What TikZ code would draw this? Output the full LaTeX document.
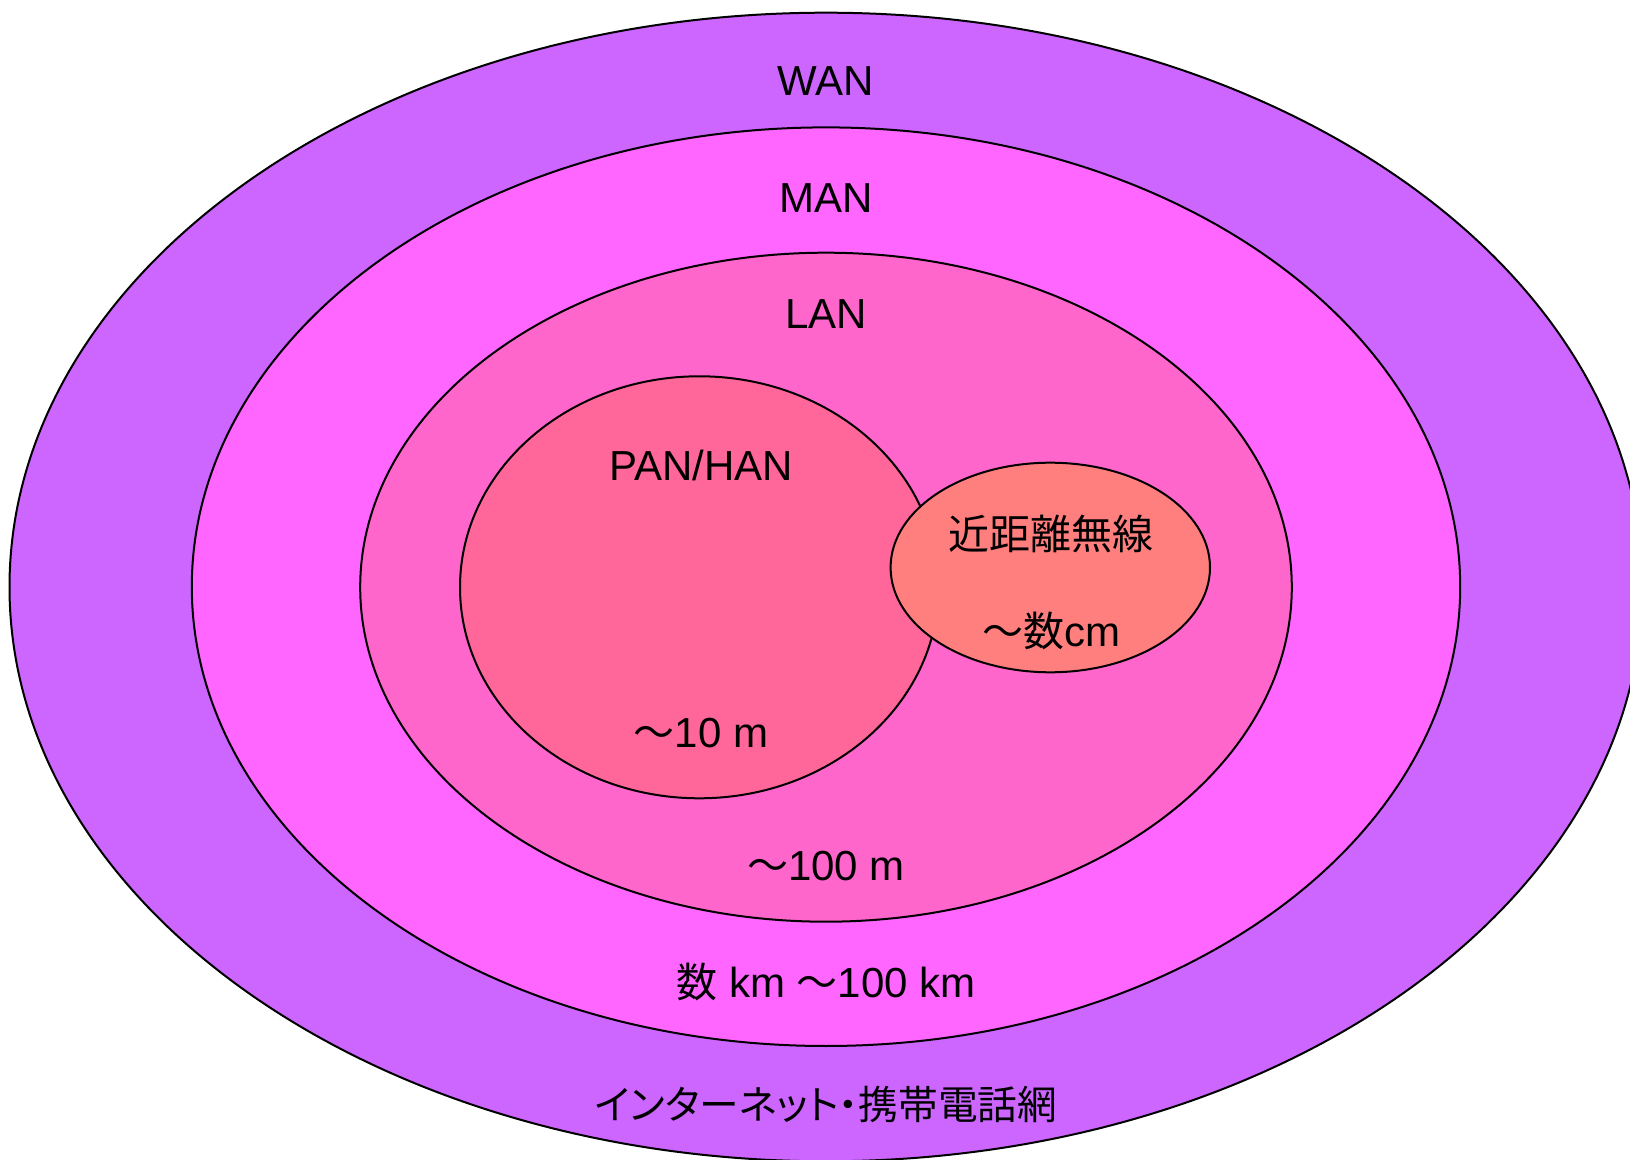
\documentclass[tikz,border=0pt]{standalone}
\usepackage{fontspec}
\setmainfont{Liberation Sans}
\newfontfamily\cjk[Scale=0.976]{Noto Sans CJK JP}
\newfontfamily\cjkp[RawFeature=+palt,Scale=0.945]{Noto Sans CJK JP}
\definecolor{wanc}{HTML}{CC66FF}
\definecolor{manc}{HTML}{FF66FF}
\definecolor{lanc}{HTML}{FF66CC}
\definecolor{panc}{HTML}{FF6699}
\definecolor{nfcc}{HTML}{FF7F7F}
\begin{document}
\begin{tikzpicture}[x=0.5pt,y=-0.5pt,line width=1pt,
  lbl/.style={font=\fontsize{21}{25}\selectfont, inner sep=0pt, text=black},
  zone/.style={draw=black, line width=1pt}]
\useasboundingbox (0,0) rectangle (1630,1160);
\clip (0,0) rectangle (1630,1160);
\filldraw[zone, fill=wanc] (826,587) ellipse [x radius=816.5, y radius=574.3];
\filldraw[zone, fill=manc] (826,586.7) ellipse [x radius=634.2, y radius=459.3];
\filldraw[zone, fill=lanc] (826,587.2) ellipse [x radius=465.8, y radius=334.5];
\filldraw[zone, fill=panc] (699.3,587.3) ellipse [x radius=239.3, y radius=211];
\filldraw[zone, fill=nfcc] (1050.3,567.5) ellipse [x radius=159.7, y radius=104.8];
\node[lbl] (wan) at (826,81) {WAN};
\node[lbl] (man) at (826,198) {MAN};
\node[lbl] (lan) at (826,314) {LAN};
\node[lbl] (pan) at (701,465) {PAN/HAN};
\node[lbl] (nfc) at (1051,534) {\cjk 近距離無線};
\node[lbl] (nfcr) at (1051,631) {{\cjk ～数}cm};
\node[lbl] (panr) at (701,733) {{\cjk ～}10 m};
\node[lbl] (lanr) at (826,866) {{\cjk ～}100 m};
\node[lbl] (manr) at (826,982) {{\cjk 数} km {\cjk ～}100 km};
\node[lbl] (wanr) at (826,1104) {\cjkp インターネット・携帯電話網};
\end{tikzpicture}
\end{document}
